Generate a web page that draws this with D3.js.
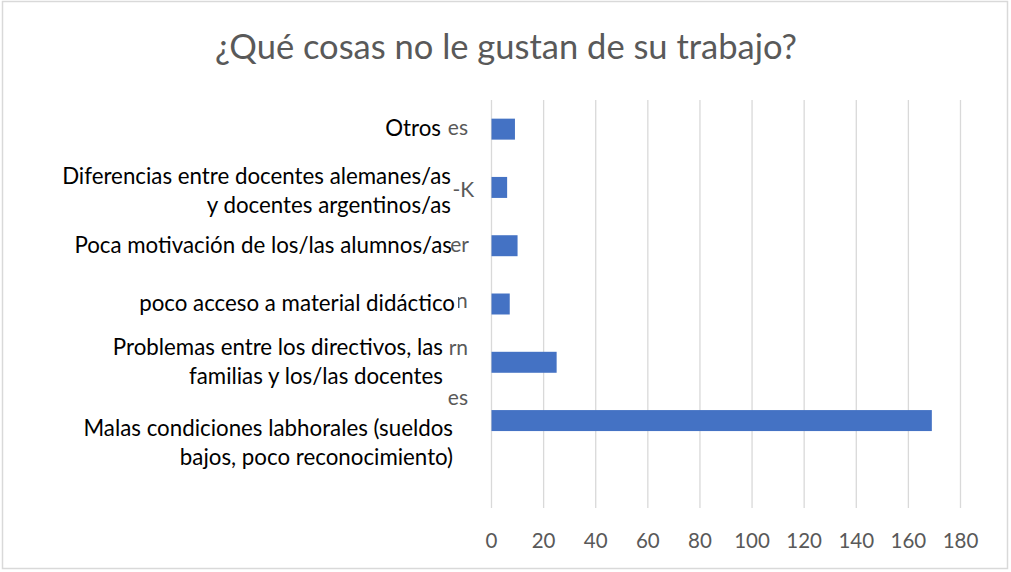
<!DOCTYPE html>
<html>
<head>
	<meta charset="utf-8">
	<title>Qué cosas no le gustan</title>
	<script type="text/javascript" src="https://d3js.org/d3.v7.min.js"></script>
	<style>
		body { margin: 0; background: #fff; }
		text { font-family: Lato, "Noto Sans", sans-serif; }
	</style>
</head>
<body>
	<script type="text/javascript">
		// categories top to bottom, last slot is an empty category
		var categories = [
			"Otros",
			"Diferencias entre docentes alemanes/as y docentes argentinos/as",
			"Poca motivación de los/las alumnos/as",
			"poco acceso a material didáctico",
			"Problemas entre los directivos, las familias y los/las docentes",
			"Malas condiciones labhorales (sueldos bajos, poco reconocimiento)",
			""
		];
		var labelLines = [
			["Otros"],
			["Diferencias entre docentes alemanes/as", "y docentes argentinos/as"],
			["Poca motivación de los/las alumnos/as"],
			["poco acceso a material didáctico"],
			["Problemas entre los directivos, las", "familias y los/las docentes"],
			["Malas condiciones labhorales (sueldos", "bajos, poco reconocimiento)"],
			[]
		];
		var values = [9, 6, 10, 7, 25, 169, null];
		var ticks = [0, 20, 40, 60, 80, 100, 120, 140, 160, 180];
		// pieces of the hidden axis labels that peek out behind the text boxes
		var hiddenBits = ["es", "-K", "er", "n", "rn", "es"];

		var W = 1011, H = 572;
		var svg = d3.select("body").append("svg").attr("width", W).attr("height", H);

		svg.append("rect").attr("x", 2.5).attr("y", 1.5).attr("width", 1005).attr("height", 567)
			.attr("fill", "#fff").attr("stroke", "#d9d9d9").attr("stroke-width", 1.5);

		svg.append("text").attr("x", 506).attr("y", 59).attr("text-anchor", "middle")
			.attr("font-size", 34.5).attr("fill", "#595959")
			.text("¿Qué cosas no le gustan de su trabajo?");

		var x = d3.scaleLinear().domain([0, 180]).range([491.5, 960.5]);
		var y = d3.scaleBand().domain(categories).range([100, 508]).padding(0);
		var step = y.step();

		// gridlines
		svg.selectAll("line.grid").data(ticks).enter().append("line")
			.attr("x1", function (d) { return x(d); }).attr("x2", function (d) { return x(d); })
			.attr("y1", 100).attr("y2", 508)
			.attr("stroke", "#d9d9d9").attr("stroke-width", 1.3);

		// tick labels
		svg.selectAll("text.tick").data(ticks).enter().append("text")
			.attr("x", function (d) { return x(d); }).attr("y", 548)
			.attr("text-anchor", "middle").attr("font-size", 20.5).attr("fill", "#595959")
			.text(function (d) { return d; });

		// bars
		var rows = categories.map(function (c, i) { return { cat: c, v: values[i], i: i }; })
			.filter(function (d) { return d.v != null; });
		var barH = step * 0.36;
		svg.selectAll("rect.bar").data(rows).enter().append("rect")
			.attr("x", x(0))
			.attr("y", function (d) { return y(d.cat) + (step - barH) / 2; })
			.attr("width", function (d) { return x(d.v) - x(0); })
			.attr("height", barH)
			.attr("fill", "#4472c4");

		// hidden label fragments (grey, clipped on the left)
		var bitX = [468, 452.5, 469, 456, 468, 468];
		var bitAnchor = ["end", "start", "end", "start", "end", "end"];
		var bitClip = [446, 452, 451, 458, 446, 446];
		var bitBase = [6, 10, 6, 4, -7, -16];
		var defs = svg.append("defs");
		hiddenBits.forEach(function (t, i) {
			var cy = y(categories[i]) + step / 2;
			defs.append("clipPath").attr("id", "cb" + i).append("rect")
				.attr("x", bitClip[i]).attr("y", cy - 40).attr("width", 40).attr("height", 80);
			svg.append("text").attr("clip-path", "url(#cb" + i + ")")
				.attr("x", bitX[i]).attr("y", cy + bitBase[i])
				.attr("text-anchor", bitAnchor[i]).attr("font-size", 21).attr("fill", "#595959")
				.text(t);
		});

		// category labels (black text boxes)
		var labelRight = [441, 451, 452, 455, 443, 453];
		var labelShift = [0, 4, 0, 0, 0, 23];
		var lineH = 29.5;
		labelLines.forEach(function (lines, i) {
			if (!lines.length) return;
			var cy = y(categories[i]) + step / 2 + labelShift[i];
			var first = cy + 7 - (lines.length - 1) * lineH / 2;
			lines.forEach(function (l, j) {
				svg.append("text").attr("x", labelRight[i]).attr("y", first + j * lineH)
					.attr("text-anchor", "end").attr("font-size", 22.3).attr("fill", "#000")
					.text(l);
			});
		});
	</script>
</body>
</html>
